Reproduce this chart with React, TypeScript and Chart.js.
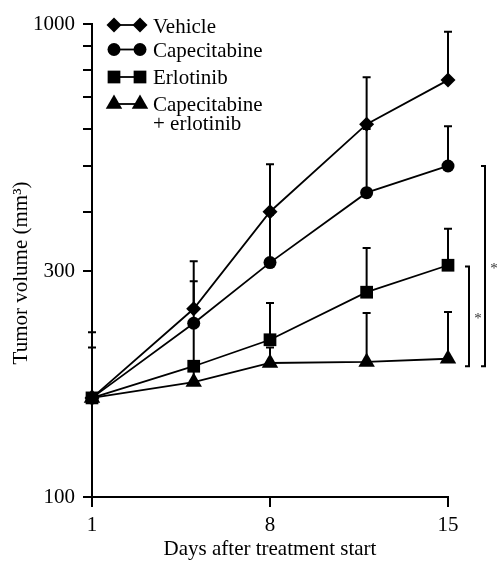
import React, { useEffect, useRef } from 'react';
import { Chart, registerables } from 'chart.js';
import { drawPoint } from 'chart.js/helpers';

Chart.register(...registerables);

// ---- data ----
const days = [1, 5, 8, 11.8, 15];
const seriesNames = ['Vehicle', 'Capecitabine', 'Erlotinib', 'Capecitabine'];
const seriesSecondLine = ['', '', '', '+ erlotinib'];
const vehicle = [162, 250, 401, 614, 761];
const capecitabine = [162, 233, 313, 440, 501];
const erlotinib = [162, 189, 215, 271, 309];
const combination = [162, 175, 192, 193, 196];
const vehicleErrTop = [223, 315, 505, 772, 963];
const capecitabineErrTop = [207, 286, 395, 600, 608];
const erlotinibErrTop = [null, 230, 257, 336, 369];
const combinationErrTop = [null, 187, 207, 245, 246];
const yTickValues = [100, 300, 400, 500, 600, 700, 800, 900, 1000];
const yTickLabels = [100, 300, 1000];
const xTickValues = [1, 8, 15];
const bracketTop = [501, 307];
const bracketBottom = [189, 189];
const bracketLabels = ['*', '*'];

const seriesValues = [vehicle, capecitabine, erlotinib, combination];
const seriesErrTop = [vehicleErrTop, capecitabineErrTop, erlotinibErrTop, combinationErrTop];

// ---- styles ----
const FONT = 'Liberation Serif';
const pointStyles = ['rectRot', 'circle', 'rect', 'triangle'];
const pointRadii = [7.5, 6.5, 9, 9.5];
const bracketOffsets = [37, 21];

const errorBarPlugin = {
  id: 'errorBars',
  beforeDatasetsDraw(chart: any) {
    const { ctx, scales } = chart;
    const xs = scales.x;
    const ys = scales.y;
    ctx.save();
    ctx.strokeStyle = '#000';
    ctx.lineWidth = 2;
    seriesValues.forEach((vals, i) => {
      const tops = seriesErrTop[i];
      vals.forEach((v, j) => {
        const t = tops[j];
        if (t == null) return;
        const px = xs.getPixelForValue(days[j]);
        const py = ys.getPixelForValue(v);
        const pt = ys.getPixelForValue(t);
        ctx.beginPath();
        ctx.moveTo(px, py);
        ctx.lineTo(px, pt);
        ctx.moveTo(px - 4, pt);
        ctx.lineTo(px + 4, pt);
        ctx.stroke();
      });
    });
    ctx.restore();
  },
};

const annotationPlugin = {
  id: 'annotations',
  afterDraw(chart: any) {
    const { ctx, scales } = chart;
    const xs = scales.x;
    const ys = scales.y;
    ctx.save();
    // significance brackets
    const xEnd = xs.getPixelForValue(days[days.length - 1]);
    bracketTop.forEach((top, i) => {
      const bx = xEnd + bracketOffsets[i];
      const t = ys.getPixelForValue(top);
      const b = ys.getPixelForValue(bracketBottom[i]);
      ctx.strokeStyle = '#000';
      ctx.lineWidth = 2;
      ctx.beginPath();
      ctx.moveTo(bx - 4, t);
      ctx.lineTo(bx, t);
      ctx.lineTo(bx, b);
      ctx.lineTo(bx - 4, b);
      ctx.stroke();
      ctx.fillStyle = '#333';
      ctx.font = `15px "${FONT}"`;
      ctx.textAlign = 'center';
      ctx.textBaseline = 'alphabetic';
      ctx.fillText(bracketLabels[i], bx + 9, (t + b) / 2 + 7);
    });

    // y axis title
    ctx.save();
    ctx.translate(27, 273);
    ctx.rotate(-Math.PI / 2);
    ctx.fillStyle = '#000';
    ctx.font = `21px "${FONT}"`;
    ctx.textAlign = 'center';
    ctx.textBaseline = 'alphabetic';
    ctx.fillText('Tumor volume (mm\u00B3)', 0, 0);
    ctx.restore();

    // legend
    const rowY = [25, 49.5, 77, 104];
    const baseY = [33, 57, 84, 111];
    seriesNames.forEach((name, i) => {
      const y = rowY[i];
      ctx.strokeStyle = '#000';
      ctx.fillStyle = '#000';
      ctx.lineWidth = 1.8;
      ctx.beginPath();
      ctx.moveTo(114, y);
      ctx.lineTo(140, y);
      ctx.stroke();
      const opts = { pointStyle: pointStyles[i], radius: pointRadii[i], rotation: 0, borderWidth: 0 };
      drawPoint(ctx, opts as any, 114, y);
      drawPoint(ctx, opts as any, 140, y);
      ctx.font = `21px "${FONT}"`;
      ctx.textAlign = 'left';
      ctx.textBaseline = 'alphabetic';
      ctx.fillText(name, 153, baseY[i]);
      if (seriesSecondLine[i]) ctx.fillText(seriesSecondLine[i], 153, baseY[i] + 19);
    });
    ctx.restore();
  },
};

export default function App() {
  const ref = useRef<HTMLCanvasElement | null>(null);
  useEffect(() => {
    if (!ref.current) return;
    const datasets = seriesValues.map((vals, i) => ({
      label: seriesNames[i] + (seriesSecondLine[i] ? ' ' + seriesSecondLine[i] : ''),
      data: vals.map((v, j) => ({ x: days[j], y: v })),
      borderColor: '#000',
      backgroundColor: '#000',
      borderWidth: 1.8,
      pointStyle: pointStyles[i],
      pointRadius: pointRadii[i],
      pointBorderWidth: 0,
      pointBackgroundColor: '#000',
      tension: 0,
      clip: false as any,
    }));
    const chart = new Chart(ref.current, {
      type: 'line',
      data: { datasets },
      options: {
        animation: false,
        responsive: true,
        maintainAspectRatio: false,
        layout: { padding: { top: 24, right: 49, left: 0, bottom: 0 } },
        plugins: { legend: { display: false }, tooltip: { enabled: false } },
        scales: {
          x: {
            type: 'linear',
            min: 1,
            max: 15,
            afterFit(s: any) { s.height = 64; },
            afterBuildTicks(s: any) { s.ticks = xTickValues.map((v) => ({ value: v })); },
            grid: { drawOnChartArea: false, drawTicks: true, tickLength: 10, color: '#000', lineWidth: 2 },
            border: { display: true, color: '#000', width: 2 },
            ticks: {
              autoSkip: false,
              maxRotation: 0,
              padding: 6,
              color: '#000',
              font: { family: FONT, size: 21 },
              callback: (v: any) => String(v),
            },
            title: {
              display: true,
              text: 'Days after treatment start',
              color: '#000',
              font: { family: FONT, size: 21, lineHeight: 1 },
              padding: { top: 0, bottom: 1 },
            },
          },
          y: {
            type: 'logarithmic',
            min: 100,
            max: 1000,
            afterFit(s: any) { s.width = 92; },
            afterBuildTicks(s: any) { s.ticks = yTickValues.map((v) => ({ value: v })); },
            grid: { drawOnChartArea: false, drawTicks: true, tickLength: 9, color: '#000', lineWidth: 2 },
            border: { display: true, color: '#000', width: 2 },
            ticks: {
              autoSkip: false,
              padding: 8,
              color: '#000',
              font: { family: FONT, size: 21 },
              callback: (v: any) => (yTickLabels.includes(Number(v)) ? String(v) : ''),
            },
          },
        },
      },
      plugins: [errorBarPlugin, annotationPlugin],
    });
    return () => chart.destroy();
  }, []);
  return (
    <div style={{ position: 'absolute', left: 0, top: 0, width: 497, height: 561, background: '#fff' }}>
      <canvas ref={ref} />
    </div>
  );
}
